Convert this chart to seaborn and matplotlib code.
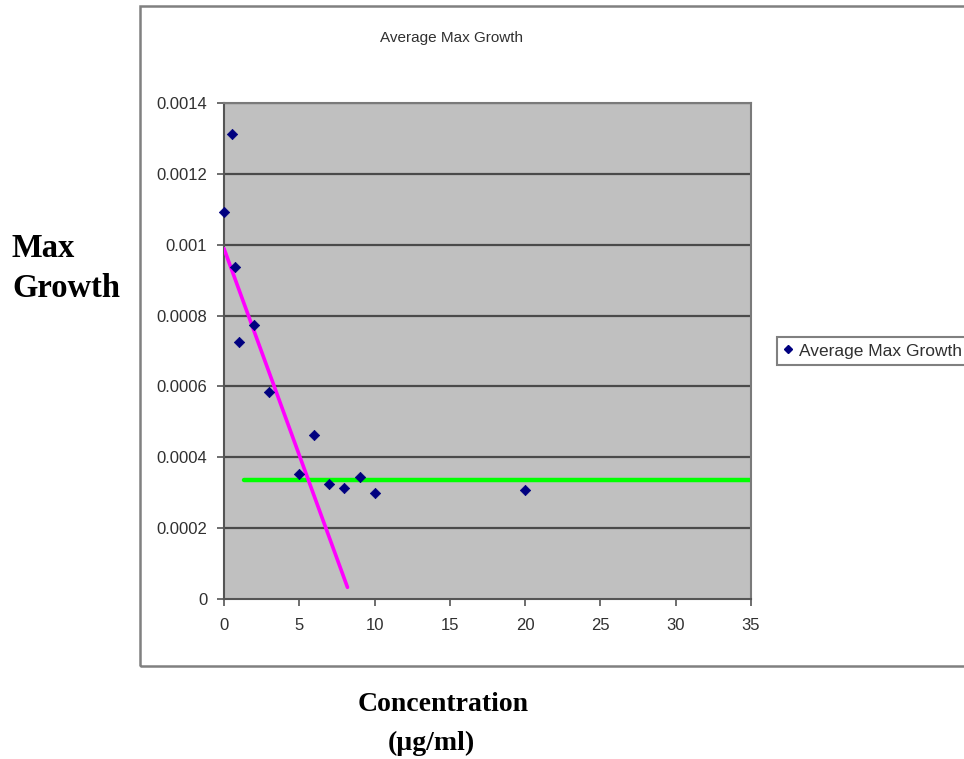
import matplotlib
matplotlib.use("Agg")
import matplotlib.pyplot as plt
import seaborn as sns
import pandas as pd
from matplotlib.patches import Rectangle
from matplotlib.lines import Line2D

# ---- data ----
concentration = [0, 0.5, 0.75, 1, 2, 3, 5, 6, 7, 8, 9, 10, 20]
max_growth = [0.001092, 0.001313, 0.000938, 0.000725, 0.000774, 0.000584,
              0.000352, 0.000462, 0.000325, 0.000314, 0.000344, 0.000300, 0.000307]
steep_line_x = [0.0, 8.2]
steep_line_y = [0.000989, 0.000033]
flat_line_x = [1.3, 35.0]
flat_line_y = [0.000335, 0.000335]
x_ticks = [0, 5, 10, 15, 20, 25, 30, 35]
y_ticks = [0, 0.0002, 0.0004, 0.0006, 0.0008, 0.001, 0.0012, 0.0014]
y_tick_labels = ["0", "0.0002", "0.0004", "0.0006", "0.0008", "0.001", "0.0012", "0.0014"]
title = "Average Max Growth"
series_name = "Average Max Growth"

sns.set_style("white")
plt.rcParams['font.family'] = ['Liberation Sans', 'DejaVu Sans']

W, H = 964, 759
fig = plt.figure(figsize=(W / 100, H / 100), dpi=100)

def fx(px):
    return px / W

def fy(py):
    return 1 - py / H

# chart area border
fig.patches.append(Rectangle((fx(140), fy(666)), fx(1000) - fx(140), fy(6) - fy(666),
                             transform=fig.transFigure, fill=False,
                             edgecolor='#808080', linewidth=1.8, zorder=0))

ax = fig.add_axes([fx(224), fy(599), fx(751) - fx(224), fy(103) - fy(599)])
ax.set_facecolor('#C0C0C0')

df = pd.DataFrame({"Concentration": concentration, "MaxGrowth": max_growth})
steep = pd.DataFrame({"x": steep_line_x, "y": steep_line_y})
flat = pd.DataFrame({"x": flat_line_x, "y": flat_line_y})

for yv in y_ticks[1:]:
    ax.axhline(yv, color='#4a4a4a', linewidth=1.6, zorder=1)

sns.lineplot(data=flat, x="x", y="y", ax=ax, color='#00FF00', linewidth=3.2,
             estimator=None, sort=False, zorder=2, legend=False)
sns.lineplot(data=steep, x="x", y="y", ax=ax, color='#FF00FF', linewidth=2.6,
             estimator=None, sort=False, zorder=3, legend=False)
sns.scatterplot(data=df, x="Concentration", y="MaxGrowth", ax=ax, marker='D',
                s=28, color='#000080', edgecolor='#000080', linewidth=0.5,
                zorder=4, legend=False, clip_on=False)

ax.set_xlim(0, 35)
ax.set_ylim(0, 0.0014)
ax.set_xticks(x_ticks)
ax.set_xticklabels([str(t) for t in x_ticks])
ax.set_yticks(y_ticks)
ax.set_yticklabels(y_tick_labels)
ax.tick_params(axis='both', which='major', direction='out', length=5, width=1.2,
               color='#555555', labelsize=12, labelcolor='#303030', bottom=True, left=True)
ax.tick_params(axis='y', pad=7)
ax.tick_params(axis='x', pad=9)
ax.set_xlabel("")
ax.set_ylabel("")
for side in ['left', 'bottom', 'top', 'right']:
    ax.spines[side].set_visible(True)
    ax.spines[side].set_color('#7a7a7a')
    ax.spines[side].set_linewidth(1.5)
ax.spines['left'].set_color('#555555')
ax.spines['bottom'].set_color('#555555')

# title
fig.text(fx(452), fy(38), title, ha='center', va='center', fontsize=11, color='#303030')

# legend
handle = Line2D([], [], marker='D', linestyle='None', markersize=4.5,
                color='#000080')
leg = fig.legend([handle], [series_name], loc='center left',
                 bbox_to_anchor=(fx(777), fy(351)), frameon=True, fontsize=12.5,
                 handlelength=0.6, handletextpad=0.3, borderpad=0.35,
                 borderaxespad=0, fancybox=False)
leg.get_frame().set_edgecolor('#606060')
leg.get_frame().set_linewidth(1.5)
for t in leg.get_texts():
    t.set_color('#303030')

# axis titles (serif bold)
serif = ['Liberation Serif', 'DejaVu Serif']
fig.text(fx(12), fy(257), "Max", ha='left', va='baseline', fontsize=23.5,
         fontweight='bold', family=serif, color='black')
fig.text(fx(12), fy(297), "Growth", ha='left', va='baseline', fontsize=23.5,
         fontweight='bold', family=serif, color='black')
fig.text(fx(443), fy(711), "Concentration", ha='center', va='baseline', fontsize=20,
         fontweight='bold', family=serif, color='black')
fig.text(fx(431), fy(750), "(\u00b5g/ml)", ha='center', va='baseline', fontsize=20,
         fontweight='bold', family=serif, color='black')

fig.savefig("out.png", dpi=100)
